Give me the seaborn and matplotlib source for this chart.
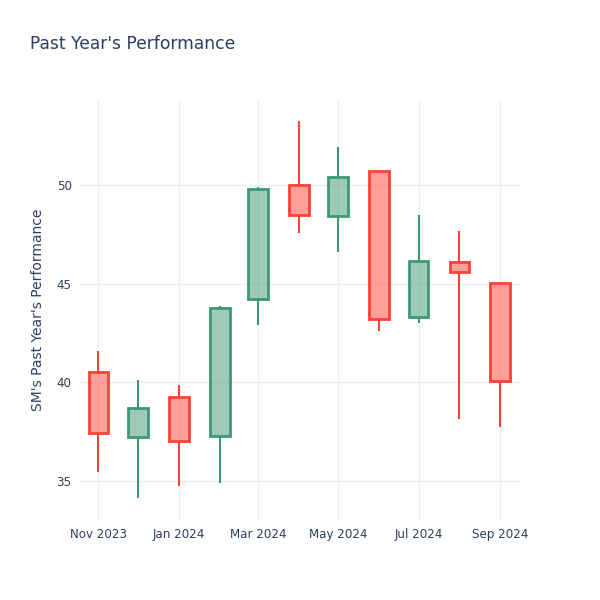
import pandas as pd
import numpy as np
import matplotlib
matplotlib.use('Agg')
import matplotlib.pyplot as plt
import matplotlib.dates as mdates
import seaborn as sns

# ----------------------------
# Data (monthly OHLC)
# ----------------------------
months = ['2023-11-01', '2023-12-01', '2024-01-01', '2024-02-01', '2024-03-01', '2024-04-01',
          '2024-05-01', '2024-06-01', '2024-07-01', '2024-08-01', '2024-09-01']
open_ = [40.51, 37.25, 39.27, 37.29, 44.22, 50.00, 48.43, 50.73, 43.29, 46.11, 45.02]
high = [41.59, 40.12, 39.86, 43.88, 49.88, 53.24, 51.91, 50.73, 48.46, 47.67, 45.02]
low = [35.47, 34.12, 34.74, 34.88, 42.90, 47.58, 46.59, 42.62, 42.99, 38.12, 37.75]
close = [37.42, 38.68, 37.04, 43.75, 49.81, 48.48, 50.41, 43.19, 46.17, 45.61, 40.07]

df = pd.DataFrame({'date': pd.to_datetime(months), 'open': open_, 'high': high,
                   'low': low, 'close': close})
df['up'] = df['close'] >= df['open']

sns.set_theme(style='white')
plt.rcParams['font.family'] = ['DejaVu Sans']

inc_color = '#3D9970'
dec_color = '#FF4136'
text_color = '#2a3f5f'
grid_color = '#EBF0F8'

fig = plt.figure(figsize=(6, 6), dpi=100)
ax = fig.add_axes([80 / 600, 80 / 600, 440 / 600, 420 / 600])

body_w = pd.Timedelta(days=15)

for _, r in df.iterrows():
    c = inc_color if r['up'] else dec_color
    lo_body = min(r['open'], r['close'])
    hi_body = max(r['open'], r['close'])
    # wicks
    ax.vlines(r['date'], r['low'], lo_body, color=c, lw=1.5, zorder=3)
    ax.vlines(r['date'], hi_body, r['high'], color=c, lw=1.5, zorder=3)
    # body
    ax.bar(r['date'], hi_body - lo_body, bottom=lo_body, width=body_w,
           color=c, alpha=0.5, zorder=3, linewidth=0)
    ax.bar(r['date'], hi_body - lo_body, bottom=lo_body, width=body_w,
           fill=False, edgecolor=c, linewidth=2, zorder=4)

ax.set_xlim(pd.Timestamp('2023-10-18'), pd.Timestamp('2024-09-16'))
ax.set_ylim(33.02, 54.31)
ax.set_yticks([35, 40, 45, 50])

tick_dates = pd.to_datetime(['2023-11-01', '2024-01-01', '2024-03-01', '2024-05-01',
                             '2024-07-01', '2024-09-01'])
ax.set_xticks(tick_dates)
ax.xaxis.set_major_formatter(mdates.DateFormatter('%b %Y'))

ax.grid(True, color=grid_color, lw=1, zorder=0)
for s in ax.spines.values():
    s.set_visible(False)
ax.tick_params(axis='both', length=0, labelsize=8.6, labelcolor=text_color, pad=6)

ax.set_ylabel("SM's Past Year's Performance", fontsize=10, color=text_color, labelpad=8)
fig.text(30 / 600, 1 - 44 / 600, "Past Year's Performance", fontsize=12.3,
         color=text_color, va='center', ha='left')

fig.savefig('out.png', dpi=100)
